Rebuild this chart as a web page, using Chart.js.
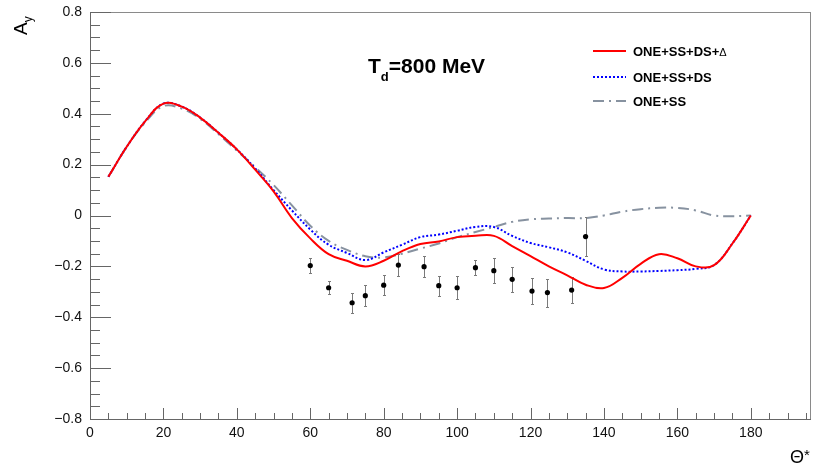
<!DOCTYPE html>
<html>
<head>
<meta charset="utf-8">
<script src="https://cdn.jsdelivr.net/npm/chart.js@4"></script>
<style>
  html, body { margin: 0; padding: 0; background: #fff; }
</style>
</head>
<body>
<canvas id="asym" width="815" height="468"></canvas>
<script>
"use strict"

// model curves, A_y vs theta* (deg)
const theta = [5, 10, 15, 20, 25, 30, 35, 40, 45, 50, 55, 60, 65, 70, 75, 80, 85, 90,
  95, 100, 105, 110, 115, 120, 125, 130, 135, 140, 145, 150, 155, 160, 165, 170, 175, 180];
const fullModel = [0.152, 0.27, 0.37, 0.44, 0.428, 0.385, 0.325, 0.26, 0.18, 0.095, -0.01, -0.09, -0.152, -0.178, -0.2, -0.178,
  -0.14, -0.112, -0.102, -0.085, -0.08, -0.08, -0.12, -0.16, -0.2, -0.235, -0.272, -0.285, -0.245, -0.19, -0.152, -0.168, -0.2, -0.195, -0.11, 0.0];
const noDelta = [0.152, 0.27, 0.37, 0.44, 0.428, 0.385, 0.325, 0.26, 0.185, 0.1, 0.02, -0.055, -0.115, -0.147, -0.175, -0.145,
  -0.115, -0.085, -0.075, -0.06, -0.045, -0.045, -0.08, -0.108, -0.125, -0.145, -0.178, -0.212, -0.22, -0.22, -0.218, -0.215, -0.21, -0.195, -0.11, 0.0];
const oneSS = [0.152, 0.27, 0.365, 0.43, 0.42, 0.38, 0.32, 0.255, 0.19, 0.12, 0.04, -0.04, -0.1, -0.135, -0.16, -0.165,
  -0.15, -0.13, -0.11, -0.085, -0.065, -0.045, -0.025, -0.015, -0.012, -0.01, -0.01, 0.0, 0.015, 0.025, 0.03, 0.03, 0.02, 0.0, -0.003, 0.0];

// measured points
const dataTheta = [60, 65, 71.4, 75, 80, 84, 91, 95, 100, 105, 110, 115, 120.4, 124.6, 131.2, 135];
const dataAy = [-0.197, -0.284, -0.343, -0.315, -0.274, -0.195, -0.201, -0.276, -0.284, -0.205, -0.217, -0.251, -0.297, -0.303, -0.293, -0.083];
const dataErr = [0.03, 0.025, 0.04, 0.04, 0.04, 0.043, 0.04, 0.04, 0.045, 0.03, 0.048, 0.05, 0.05, 0.055, 0.052, 0.078];

const xTicks = [0, 20, 40, 60, 80, 100, 120, 140, 160, 180];
const yTicks = [-0.8, -0.6, -0.4, -0.2, 0, 0.2, 0.4, 0.6, 0.8];

const FONT = '"Liberation Sans", Arial, sans-serif';
const AXIS_COL = '#666';

function pts(ys) {
  return theta.map((t, i) => ({x: t, y: ys[i]}));
}

const legendItems = [
  {label: 'ONE+SS+DS+', extra: '\u0394', color: '#ff0000', dash: []},
  {label: 'ONE+SS+DS', extra: '', color: '#0000ff', dash: [2, 2]},
  {label: 'ONE+SS', extra: '', color: '#8792a0', dash: [11, 5, 2, 5]}
];

const rootFrame = {
  id: 'rootFrame',
  beforeDatasetsDraw(chart) {
    const {ctx, scales: {x, y}} = chart;
    ctx.save();
    ctx.strokeStyle = '#7a7a7a';
    ctx.lineWidth = 1;
    dataTheta.forEach((t, i) => {
      const px = Math.round(x.getPixelForValue(t)) + 0.5;
      const y1 = Math.round(y.getPixelForValue(dataAy[i] + dataErr[i])) + 0.5;
      const y2 = Math.round(y.getPixelForValue(dataAy[i] - dataErr[i])) + 0.5;
      ctx.beginPath();
      ctx.moveTo(px, y1); ctx.lineTo(px, y2);
      ctx.moveTo(px - 1.5, y1); ctx.lineTo(px + 1.5, y1);
      ctx.moveTo(px - 1.5, y2); ctx.lineTo(px + 1.5, y2);
      ctx.stroke();
    });
    ctx.restore();
  },
  afterDraw(chart) {
    const {ctx, chartArea: a, scales: {x, y}} = chart;
    ctx.save();
    ctx.lineWidth = 1;

    // frame
    ctx.strokeStyle = '#8a8a8a';
    ctx.strokeRect(a.left + 0.5, a.top + 0.5, a.right - a.left - 1, a.bottom - a.top);
    ctx.strokeStyle = AXIS_COL;
    ctx.beginPath();
    ctx.moveTo(a.left + 0.5, a.top); ctx.lineTo(a.left + 0.5, a.bottom + 0.5);
    ctx.lineTo(a.right, a.bottom + 0.5);
    ctx.stroke();

    // inward ticks
    ctx.beginPath();
    for (let i = -16; i <= 16; i++) {
      const py = Math.round(y.getPixelForValue(i * 0.05)) + 0.5;
      const len = (i % 4 === 0) ? 21 : 10;
      ctx.moveTo(a.left, py); ctx.lineTo(a.left + len, py);
    }
    for (let i = 0; i * 5 <= x.max; i++) {
      const px = Math.round(x.getPixelForValue(i * 5)) + 0.5;
      const len = (i % 4 === 0) ? 11 : 6;
      ctx.moveTo(px, a.bottom); ctx.lineTo(px, a.bottom - len);
    }
    ctx.stroke();

    ctx.fillStyle = '#000';
    ctx.textBaseline = 'alphabetic';

    // y title A_y (rotated)
    ctx.save();
    ctx.translate(27, 35);
    ctx.rotate(-Math.PI / 2);
    ctx.font = '19px ' + FONT;
    ctx.fillText('A', 0, 0);
    const wA = ctx.measureText('A').width;
    ctx.font = '12px ' + FONT;
    ctx.fillText('y', wA, 5);
    ctx.restore();

    // x title
    ctx.font = '18px ' + FONT;
    ctx.fillText('\u0398', 790, 463);
    ctx.font = '15px ' + FONT;
    ctx.fillText('*', 804, 460);

    // T_d label
    ctx.font = 'bold 21px ' + FONT;
    ctx.fillText('T', 368, 73);
    let cx = 368 + ctx.measureText('T').width;
    ctx.font = 'bold 13px ' + FONT;
    ctx.fillText('d', cx, 81);
    cx += ctx.measureText('d').width;
    ctx.font = 'bold 21px ' + FONT;
    ctx.fillText('=800 MeV', cx, 73);

    // legend
    const rowY = [51, 77, 101];
    legendItems.forEach((it, i) => {
      ctx.strokeStyle = it.color;
      ctx.lineWidth = 2;
      ctx.setLineDash(it.dash);
      ctx.beginPath();
      ctx.moveTo(593, rowY[i]); ctx.lineTo(626, rowY[i]);
      ctx.stroke();
      ctx.setLineDash([]);
      ctx.font = 'bold 13px ' + FONT;
      ctx.fillText(it.label, 633, rowY[i] + 5);
      if (it.extra) {
        const w = ctx.measureText(it.label).width;
        ctx.font = '11px ' + FONT;
        ctx.fillText(it.extra, 633 + w, rowY[i] + 5);
      }
    });
    ctx.restore();
  }
};

const line = (label, ys, color, dash) => ({
  label: label,
  data: pts(ys),
  showLine: true,
  borderColor: color,
  backgroundColor: color,
  borderWidth: 2,
  borderDash: dash,
  pointRadius: 0,
  tension: 0.4,
  fill: false
});

new Chart(document.getElementById('asym'), {
  type: 'scatter',
  data: {
    datasets: [
      line('ONE+SS+DS+\u0394', fullModel, '#ff0000', []),
      line('ONE+SS+DS', noDelta, '#0000ff', [2, 2]),
      line('ONE+SS', oneSS, '#8792a0', [11, 5, 2, 5]),
      {
        label: 'data',
        data: dataTheta.map((t, i) => ({x: t, y: dataAy[i]})),
        showLine: false,
        pointRadius: 2.6,
        pointBorderWidth: 0,
        backgroundColor: '#000',
        borderColor: '#000'
      }
    ]
  },
  options: {
    responsive: false,
    animation: false,
    devicePixelRatio: 1,
    layout: {padding: {left: 0, top: 12, right: 4, bottom: 0}},
    plugins: {legend: {display: false}, tooltip: {enabled: false}},
    scales: {
      x: {
        type: 'linear',
        min: 0,
        max: 196.4,
        grid: {display: false},
        border: {display: false},
        afterBuildTicks: s => { s.ticks = xTicks.map(v => ({value: v})); },
        afterFit: s => { s.height = 49; },
        ticks: {
          font: {family: FONT, size: 14},
          color: '#111',
          padding: -2,
          maxRotation: 0,
          autoSkip: false
        }
      },
      y: {
        type: 'linear',
        min: -0.8,
        max: 0.8,
        grid: {display: false},
        border: {display: false},
        afterBuildTicks: s => { s.ticks = yTicks.map(v => ({value: v})); },
        afterFit: s => { s.width = 90; },
        ticks: {
          font: {family: FONT, size: 14},
          color: '#111',
          padding: 0,
          autoSkip: false,
          callback: v => Math.abs(v) < 1e-9 ? '0' : v.toFixed(1).replace('-', '\u2212')
        }
      }
    }
  },
  plugins: [rootFrame]
});
</script>
</body>
</html>
